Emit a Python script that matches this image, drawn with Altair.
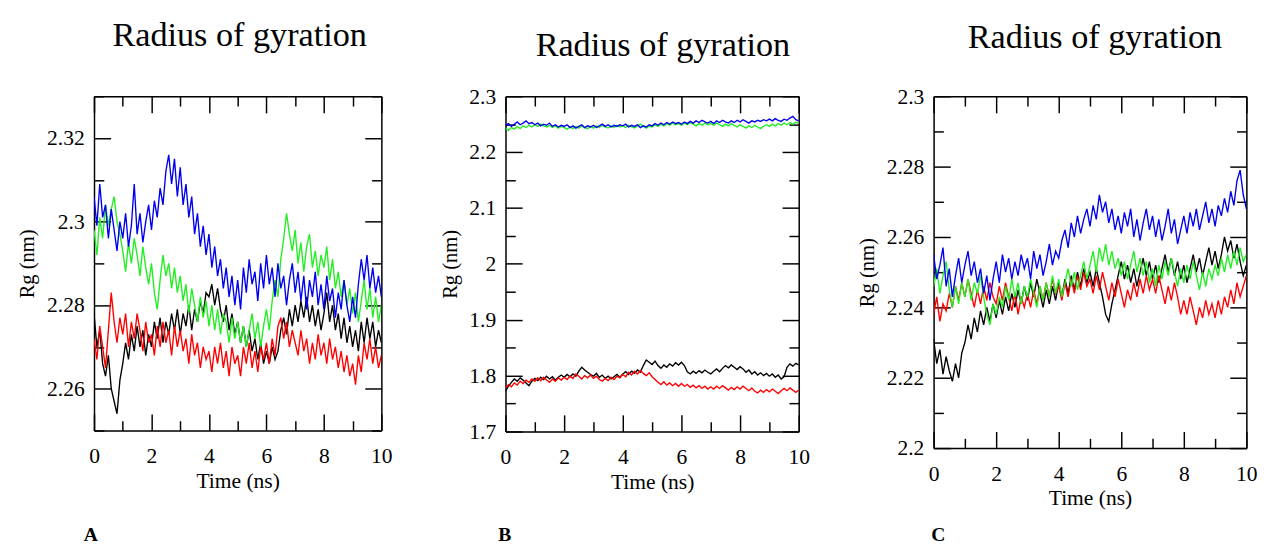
import altair as alt
import pandas as pd

TIME = [round(i * 0.1, 1) for i in range(101)]
X_MAJOR = [0, 2, 4, 6, 8, 10]
X_MINOR = [1, 3, 5, 7, 9]

# ---------------- Panel A ----------------
A_BLACK = [2.278, 2.270, 2.274, 2.266, 2.263, 2.268, 2.260, 2.257, 2.254, 2.262,
           2.266, 2.271, 2.267, 2.273, 2.269, 2.275, 2.270, 2.274, 2.268, 2.273,
           2.270, 2.276, 2.272, 2.277, 2.271, 2.276, 2.273, 2.278, 2.274, 2.279,
           2.273, 2.278, 2.275, 2.280, 2.274, 2.279, 2.276, 2.281, 2.278, 2.283,
           2.282, 2.285, 2.280, 2.284, 2.279, 2.276, 2.280, 2.274, 2.278, 2.273,
           2.276, 2.271, 2.275, 2.270, 2.274, 2.269, 2.272, 2.267, 2.271, 2.266,
           2.269, 2.266, 2.270, 2.267, 2.269, 2.274, 2.277, 2.273, 2.279, 2.275,
           2.280, 2.276, 2.281, 2.277, 2.282, 2.276, 2.280, 2.275, 2.279, 2.274,
           2.278, 2.283, 2.276, 2.280, 2.274, 2.278, 2.272, 2.277, 2.271, 2.275,
           2.270, 2.274, 2.269, 2.276, 2.271, 2.277, 2.272, 2.276, 2.270, 2.274,
           2.271]
A_RED = [2.272, 2.267, 2.275, 2.270, 2.265, 2.274, 2.283, 2.276, 2.271, 2.277,
         2.273, 2.278, 2.270, 2.276, 2.272, 2.278, 2.274, 2.269, 2.276, 2.271,
         2.273, 2.268, 2.275, 2.270, 2.276, 2.271, 2.274, 2.268, 2.275, 2.270,
         2.274, 2.269, 2.272, 2.266, 2.273, 2.268, 2.271, 2.265, 2.270, 2.267,
         2.269, 2.264, 2.270, 2.266, 2.271, 2.265, 2.269, 2.263, 2.270, 2.266,
         2.268, 2.263, 2.270, 2.266, 2.271, 2.265, 2.269, 2.264, 2.270, 2.267,
         2.271, 2.266, 2.272, 2.268, 2.275, 2.277, 2.272, 2.276, 2.270, 2.274,
         2.271, 2.268, 2.274, 2.269, 2.272, 2.266, 2.271, 2.267, 2.273, 2.268,
         2.271, 2.266, 2.272, 2.267, 2.270, 2.265, 2.269, 2.264, 2.268, 2.263,
         2.266, 2.261, 2.268, 2.264, 2.271, 2.267, 2.272, 2.266, 2.270, 2.265,
         2.268]
A_GREEN = [2.298, 2.292, 2.301, 2.296, 2.304, 2.299, 2.303, 2.306, 2.300, 2.297,
           2.293, 2.288, 2.295, 2.290, 2.296, 2.292, 2.287, 2.294, 2.289, 2.285,
           2.290, 2.283, 2.279, 2.286, 2.292, 2.287, 2.290, 2.284, 2.289, 2.283,
           2.287, 2.281, 2.285, 2.278, 2.284, 2.280, 2.276, 2.282, 2.277, 2.281,
           2.275, 2.280, 2.274, 2.279, 2.273, 2.278, 2.276, 2.271, 2.277, 2.272,
           2.276, 2.271, 2.275, 2.270, 2.274, 2.278, 2.272, 2.276, 2.270, 2.275,
           2.279, 2.274, 2.281, 2.286, 2.282, 2.291, 2.296, 2.302, 2.297, 2.293,
           2.298, 2.290, 2.295, 2.288, 2.294, 2.297, 2.289, 2.293, 2.287, 2.292,
           2.289, 2.294, 2.286, 2.291, 2.284, 2.288, 2.282, 2.286, 2.280, 2.284,
           2.278, 2.283, 2.276, 2.281, 2.286, 2.279, 2.284, 2.277, 2.282, 2.276,
           2.280]
A_BLUE = [2.306, 2.299, 2.309, 2.301, 2.304, 2.296, 2.303, 2.298, 2.293, 2.300,
          2.296, 2.302, 2.294, 2.299, 2.309, 2.297, 2.302, 2.295, 2.300, 2.304,
          2.298, 2.305, 2.301, 2.308, 2.304, 2.312, 2.316, 2.309, 2.315, 2.306,
          2.313, 2.304, 2.309, 2.301, 2.306, 2.297, 2.302, 2.294, 2.299, 2.292,
          2.297, 2.289, 2.294, 2.287, 2.291, 2.284, 2.289, 2.282, 2.287, 2.280,
          2.286, 2.279, 2.289, 2.283, 2.291, 2.285, 2.288, 2.281, 2.290, 2.284,
          2.292, 2.285, 2.289, 2.282, 2.290, 2.284, 2.287, 2.280, 2.286, 2.290,
          2.283, 2.288, 2.281, 2.287, 2.279, 2.286, 2.282, 2.288, 2.280, 2.285,
          2.279, 2.287, 2.281, 2.284, 2.277, 2.283, 2.279, 2.286, 2.280, 2.276,
          2.282, 2.277, 2.285, 2.291, 2.286, 2.292, 2.284, 2.289, 2.283, 2.287,
          2.282]

# ---------------- Panel B ----------------
B_BLACK = [1.772, 1.781, 1.788, 1.794, 1.790, 1.796, 1.792, 1.787, 1.782, 1.790,
           1.795, 1.791, 1.797, 1.793, 1.799, 1.794, 1.798, 1.792, 1.797, 1.801,
           1.797, 1.802, 1.798, 1.803, 1.799, 1.808, 1.815, 1.810, 1.806, 1.802,
           1.799, 1.804, 1.797, 1.801, 1.795, 1.799, 1.794, 1.798, 1.802, 1.797,
           1.803, 1.807, 1.802, 1.808, 1.804, 1.810, 1.806, 1.818, 1.828, 1.824,
           1.820, 1.826, 1.818, 1.813, 1.819, 1.815, 1.821, 1.817, 1.823, 1.819,
           1.824, 1.818, 1.807, 1.803, 1.808, 1.804, 1.809, 1.805, 1.810, 1.806,
           1.803, 1.808, 1.812, 1.807, 1.813, 1.818, 1.814, 1.819, 1.815, 1.811,
           1.816, 1.812, 1.806, 1.810, 1.803, 1.807, 1.801, 1.805, 1.800, 1.804,
           1.799, 1.803, 1.797, 1.801, 1.794, 1.798, 1.815, 1.821, 1.817, 1.822,
           1.819]
B_RED = [1.778, 1.784, 1.780, 1.787, 1.783, 1.790, 1.786, 1.792, 1.788, 1.794,
         1.790, 1.796, 1.791, 1.797, 1.792, 1.788, 1.794, 1.790, 1.796, 1.792,
         1.797, 1.793, 1.799, 1.795, 1.803, 1.799, 1.794, 1.800, 1.796, 1.801,
         1.795, 1.799, 1.793, 1.790, 1.795, 1.791, 1.797, 1.793, 1.799, 1.796,
         1.802, 1.798, 1.806, 1.801, 1.808, 1.803, 1.809, 1.804, 1.800, 1.805,
         1.798, 1.793, 1.788, 1.784, 1.789, 1.783, 1.787, 1.782, 1.786, 1.781,
         1.786, 1.781, 1.784, 1.779, 1.783, 1.778, 1.782, 1.777, 1.781, 1.776,
         1.780, 1.776, 1.781, 1.777, 1.782, 1.778, 1.774, 1.779, 1.775, 1.780,
         1.776, 1.781, 1.777, 1.773, 1.778, 1.772, 1.769, 1.774, 1.770, 1.775,
         1.771, 1.776, 1.772, 1.768, 1.773, 1.777, 1.773, 1.778, 1.774, 1.770,
         1.774]
B_GREEN = [2.243, 2.239, 2.244, 2.241, 2.246, 2.242, 2.247, 2.244, 2.248, 2.245,
           2.249, 2.246, 2.250, 2.247, 2.245, 2.248, 2.244, 2.247, 2.243, 2.246,
           2.244, 2.241, 2.245, 2.242, 2.246, 2.243, 2.247, 2.244, 2.242, 2.246,
           2.243, 2.247, 2.244, 2.248, 2.245, 2.243, 2.247, 2.244, 2.248, 2.245,
           2.247, 2.244, 2.248, 2.245, 2.243, 2.247, 2.250, 2.246, 2.243, 2.247,
           2.245, 2.249, 2.246, 2.250, 2.247, 2.251, 2.248, 2.252, 2.249, 2.251,
           2.248, 2.252, 2.249, 2.253, 2.250, 2.247, 2.251, 2.248, 2.252, 2.249,
           2.251, 2.248, 2.252, 2.249, 2.246, 2.250, 2.247, 2.251, 2.248, 2.245,
           2.249, 2.246, 2.243, 2.247, 2.244, 2.248, 2.245, 2.242, 2.246, 2.249,
           2.246, 2.250, 2.247, 2.251, 2.248, 2.252, 2.249, 2.253, 2.250, 2.254,
           2.251]
B_BLUE = [2.248, 2.251, 2.246, 2.250, 2.254, 2.249, 2.252, 2.256, 2.251, 2.253,
          2.249, 2.252, 2.247, 2.250, 2.248, 2.252, 2.246, 2.249, 2.245, 2.248,
          2.246, 2.249, 2.244, 2.247, 2.243, 2.246, 2.249, 2.244, 2.247, 2.245,
          2.248, 2.244, 2.247, 2.250, 2.246, 2.249, 2.245, 2.248, 2.246, 2.249,
          2.247, 2.250, 2.245, 2.248, 2.246, 2.249, 2.244, 2.247, 2.245, 2.249,
          2.247, 2.251, 2.248, 2.252, 2.249, 2.253, 2.250, 2.254, 2.251, 2.253,
          2.250, 2.254, 2.251, 2.255, 2.252, 2.256, 2.253, 2.257, 2.254, 2.252,
          2.255, 2.251, 2.256, 2.253, 2.257, 2.254, 2.252, 2.256, 2.253, 2.257,
          2.254, 2.258, 2.255, 2.252, 2.256, 2.254, 2.257, 2.255, 2.258, 2.256,
          2.259, 2.256, 2.260, 2.257, 2.255, 2.259, 2.257, 2.261, 2.264, 2.258,
          2.256]

# ---------------- Panel C ----------------
C_BLACK = [2.231, 2.224, 2.228, 2.221, 2.226, 2.222, 2.219, 2.224, 2.220, 2.227,
           2.230, 2.235, 2.231, 2.237, 2.233, 2.239, 2.235, 2.240, 2.236, 2.241,
           2.237, 2.242, 2.238, 2.243, 2.239, 2.244, 2.240, 2.245, 2.241, 2.246,
           2.242, 2.247, 2.243, 2.248, 2.244, 2.240, 2.245, 2.241, 2.246, 2.242,
           2.247, 2.243, 2.248, 2.244, 2.249, 2.245, 2.250, 2.246, 2.251, 2.247,
           2.250, 2.246, 2.251, 2.247, 2.243, 2.238, 2.236, 2.241, 2.245, 2.249,
           2.253, 2.248, 2.252, 2.247, 2.251, 2.246, 2.250, 2.254, 2.249, 2.253,
           2.248, 2.252, 2.247, 2.251, 2.255, 2.250, 2.254, 2.249, 2.253, 2.248,
           2.252, 2.247, 2.251, 2.255, 2.250, 2.254, 2.249, 2.253, 2.257, 2.252,
           2.256, 2.251, 2.255, 2.260, 2.256, 2.259, 2.254, 2.258, 2.253, 2.249,
           2.252]
C_RED = [2.238, 2.243, 2.236, 2.241, 2.239, 2.244, 2.240, 2.246, 2.242, 2.247,
         2.243, 2.248, 2.244, 2.240, 2.245, 2.241, 2.246, 2.242, 2.247, 2.243,
         2.241, 2.246, 2.242, 2.247, 2.243, 2.239, 2.244, 2.238, 2.243, 2.240,
         2.244, 2.240, 2.245, 2.241, 2.246, 2.242, 2.247, 2.243, 2.248, 2.244,
         2.246, 2.242, 2.247, 2.243, 2.248, 2.244, 2.249, 2.245, 2.250, 2.246,
         2.248, 2.244, 2.249, 2.245, 2.250, 2.246, 2.242, 2.247, 2.243, 2.248,
         2.244, 2.240, 2.245, 2.242, 2.247, 2.243, 2.248, 2.244, 2.249, 2.245,
         2.248, 2.244, 2.249, 2.245, 2.241, 2.246, 2.242, 2.247, 2.243, 2.238,
         2.242, 2.238, 2.243, 2.239, 2.235, 2.240, 2.237, 2.242, 2.238, 2.241,
         2.237, 2.242, 2.238, 2.243, 2.240, 2.245, 2.241, 2.247, 2.243, 2.246,
         2.249]
C_GREEN = [2.246, 2.251, 2.244, 2.249, 2.253, 2.245, 2.240, 2.246, 2.241, 2.247,
           2.243, 2.248, 2.242, 2.247, 2.244, 2.249, 2.243, 2.238, 2.235, 2.241,
           2.238, 2.243, 2.240, 2.246, 2.242, 2.248, 2.243, 2.247, 2.241, 2.246,
           2.243, 2.248, 2.244, 2.240, 2.246, 2.242, 2.247, 2.243, 2.249, 2.244,
           2.248, 2.243, 2.247, 2.251, 2.246, 2.250, 2.245, 2.249, 2.253, 2.248,
           2.252, 2.256, 2.250, 2.257, 2.253, 2.258, 2.252, 2.256, 2.251, 2.254,
           2.249, 2.253, 2.248, 2.252, 2.256, 2.250, 2.254, 2.249, 2.253, 2.247,
           2.251, 2.246, 2.252, 2.248, 2.253, 2.249, 2.254, 2.250, 2.246, 2.251,
           2.247, 2.252, 2.248, 2.253, 2.249, 2.245, 2.250, 2.246, 2.251, 2.248,
           2.252, 2.249, 2.254, 2.250, 2.255, 2.251, 2.256, 2.252, 2.257, 2.253,
           2.255]
C_BLUE = [2.255, 2.248, 2.252, 2.257, 2.246, 2.251, 2.243, 2.249, 2.254, 2.247,
          2.252, 2.256, 2.249, 2.253, 2.247, 2.251, 2.244, 2.249, 2.242, 2.248,
          2.253, 2.247, 2.255, 2.250, 2.254, 2.248, 2.253, 2.249, 2.255, 2.251,
          2.254, 2.248, 2.256, 2.251, 2.255, 2.249, 2.253, 2.258, 2.252, 2.256,
          2.254, 2.259, 2.262, 2.257, 2.264, 2.260, 2.266, 2.261, 2.265, 2.268,
          2.263, 2.269, 2.265, 2.272, 2.267, 2.270, 2.264, 2.268, 2.262, 2.266,
          2.261, 2.267, 2.263, 2.268, 2.260, 2.265, 2.259, 2.264, 2.268, 2.262,
          2.266, 2.260, 2.265, 2.259, 2.263, 2.268, 2.261, 2.265, 2.258, 2.262,
          2.266, 2.261, 2.267, 2.263, 2.268, 2.262, 2.266, 2.270, 2.264, 2.268,
          2.263, 2.269, 2.266, 2.271, 2.267, 2.273, 2.269, 2.276, 2.279, 2.272,
          2.268]

COLORS = {"black": "#000000", "red": "#ff0000", "green": "#22ee22", "blue": "#0000f0"}
FONT = "Liberation Serif"


def make_panel(series, ydomain, y_major, y_minor, w, h, letter, letter_x, letter_y,
               title_dx, title_offset):
    xs = alt.Scale(domain=[0, 10], nice=False, zero=False)
    ys = alt.Scale(domain=ydomain, nice=False, zero=False)

    frame = dict(domain=True, domainColor="black", domainWidth=1.5, grid=False)
    nodom = dict(domain=False, grid=False)

    lab_x = alt.Axis(values=X_MAJOR, format="d", ticks=False, labelPadding=16,
                     labelFontSize=22, labelFont=FONT, labelColor="black",
                     labelFlush=False, labelOverlap=False,
                     title="Time (ns)", titleFont=FONT, titleFontSize=22,
                     titleFontWeight="normal", titleColor="black", titlePadding=4,
                     **frame)
    lab_y = alt.Axis(values=y_major, format="~f", ticks=False, labelPadding=10,
                     labelFontSize=22, labelFont=FONT, labelColor="black",
                     labelFlush=False, labelOverlap=False,
                     title="Rg (nm)", titleFont=FONT, titleFontSize=21,
                     titleFontWeight="normal", titleColor="black", titlePadding=9,
                     **frame)

    def tick_axis(orient, values, size, title=None, **kw):
        return alt.Axis(orient=orient, values=values, labels=False, ticks=True,
                        tickSize=size, offset=-size, tickColor="black", tickWidth=1.5,
                        title=title, **nodom, **kw)

    def frame_axis(orient):
        return alt.Axis(orient=orient, labels=False, ticks=False, title=None, **frame)

    letter_axis = tick_axis("bottom", X_MAJOR, 17, title=letter,
                            titleFont=FONT, titleFontSize=20, titleFontWeight="bold",
                            titleColor="black", titleAnchor="start", titleAlign="left",
                            titleBaseline="alphabetic", titleX=letter_x, titleY=letter_y)

    axes = [
        (lab_x, lab_y),
        (letter_axis, tick_axis("left", y_major, 17)),
        (tick_axis("bottom", X_MINOR, 10), tick_axis("left", y_minor, 10)),
        (tick_axis("top", X_MAJOR, 17), tick_axis("right", y_major, 17)),
        (tick_axis("top", X_MINOR, 10), tick_axis("right", y_minor, 10)),
        (frame_axis("top"), frame_axis("right")),
    ]
    order = ["black", "red", "green", "blue", "black", "black"]
    layers = []
    for i, (name, (ax_x, ax_y)) in enumerate(zip(order, axes)):
        df = pd.DataFrame({"t": TIME, "rg": series[name]})
        layers.append(
            alt.Chart(df).mark_line(color=COLORS[name], strokeWidth=1.4, clip=True,
                                    opacity=0 if i >= 4 else 1).encode(
                x=alt.X("t:Q", scale=xs, axis=ax_x),
                y=alt.Y("rg:Q", scale=ys, axis=ax_y),
            )
        )
    return alt.layer(*layers).resolve_axis(x="independent", y="independent").properties(
        width=w, height=h,
        title=alt.TitleParams("Radius of gyration", font=FONT, fontSize=35,
                              fontWeight="normal", color="black", anchor="middle",
                              dx=title_dx, offset=title_offset),
    )


panel_a = make_panel({"black": A_BLACK, "red": A_RED, "green": A_GREEN, "blue": A_BLUE},
                     [2.25, 2.33], [2.26, 2.28, 2.30, 2.32],
                     [2.25, 2.27, 2.29, 2.31, 2.33],
                     294, 342, "A", -11, 130, 2, 44)
panel_b = make_panel({"black": B_BLACK, "red": B_RED, "green": B_GREEN, "blue": B_BLUE},
                     [1.7, 2.3], [1.7, 1.8, 1.9, 2.0, 2.1, 2.2, 2.3],
                     [1.75, 1.85, 1.95, 2.05, 2.15, 2.25],
                     300, 343, "B", -8, 129, 11, 23)
panel_c = make_panel({"black": C_BLACK, "red": C_RED, "green": C_GREEN, "blue": C_BLUE},
                     [2.2, 2.3], [2.2, 2.22, 2.24, 2.26, 2.28, 2.3],
                     [2.21, 2.23, 2.25, 2.27, 2.29],
                     320, 360, "C", -3, 112, 5, 31)

chart = alt.hconcat(panel_a, panel_b, panel_c, spacing=47).properties(
    padding={"left": 9, "top": 3, "right": 5, "bottom": 0},
    background="white",
).configure_view(stroke="#000000", strokeWidth=1.5, strokeOpacity=1).configure(font=FONT)

chart.save("out.html", embed_options={"renderer": "svg", "actions": False})
